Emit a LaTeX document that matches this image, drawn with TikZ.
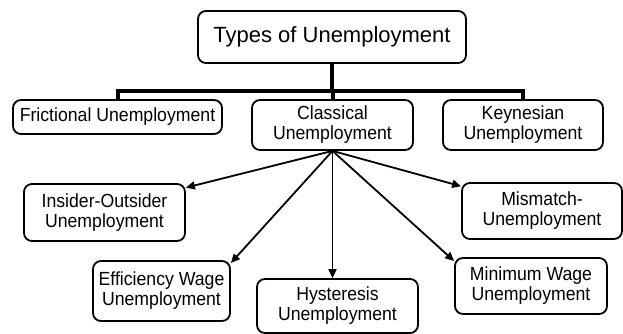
\documentclass[tikz,border=0pt]{standalone}
\usepackage{fontspec}
\setmainfont{Liberation Sans}
\newfontfamily\boxfont[FakeStretch=0.93]{Liberation Sans}
\usetikzlibrary{arrows.meta}

\begin{document}
\begin{tikzpicture}[x=1pt,y=-1pt,
  box/.style={draw, rounded corners=8pt, line width=1.8pt, align=center,
    inner sep=1.5pt, font=\boxfont\fontsize{19}{20}\selectfont},
  trunk/.style={line width=4pt},
  branch/.style={line width=1.8pt, -{Triangle[length=9pt,width=8pt]}}]
\useasboundingbox (0,0) rectangle (623,334);
% Create nodes for the main types
\node[box, minimum width=268pt, minimum height=52pt, font=\rmfamily\fontsize{22}{24}\selectfont] (types) at (332,37) {Types of Unemployment};
\node[box, minimum width=209pt, minimum height=34pt] (frictional) at (117.5,117) {Frictional Unemployment};
\node[box, minimum width=161pt, minimum height=50pt] (classical) at (332.5,125) {Classical\\Unemployment};
\node[box, minimum width=160pt, minimum height=50pt] (keynesian) at (523,125) {Keynesian\\Unemployment};

% Create nodes for the kinds of classical unemployment
\node[box, minimum width=161pt, minimum height=57pt] (insider) at (104.5,212.5) {Insider-Outsider\\Unemployment};
\node[box, minimum width=160pt, minimum height=56pt] (mismatch) at (542,211) {Mismatch-\\Unemployment};
\node[box, minimum width=137pt, minimum height=60pt] (efficiency) at (161.5,291) {Efficiency Wage\\Unemployment};
\node[box, minimum width=161pt, minimum height=54pt] (hysteresis) at (337.5,306) {Hysteresis\\Unemployment};
\node[box, minimum width=152pt, minimum height=56pt] (minwage) at (531,286) {Minimum Wage\\Unemployment};

% Tree from the title to the three types
\coordinate (bar) at (333,91);
\draw[trunk] (types.south) -- (types.south |- bar);
\draw[trunk] (frictional.north) -- (frictional.north |- bar) -| (keynesian.north);
\draw[trunk] (classical.north) -- (classical.north |- bar);

% Arrows out of classical unemployment
\draw[branch] (classical.south) -- (insider.17);
\draw[branch] (classical.south) -- (efficiency.22);
\draw[branch] (classical.south) -- (classical.south |- hysteresis.north);
\draw[branch] (classical.south) -- (minwage.162);
\draw[branch] (classical.south) -- (mismatch.163);
\end{tikzpicture}
\end{document}
